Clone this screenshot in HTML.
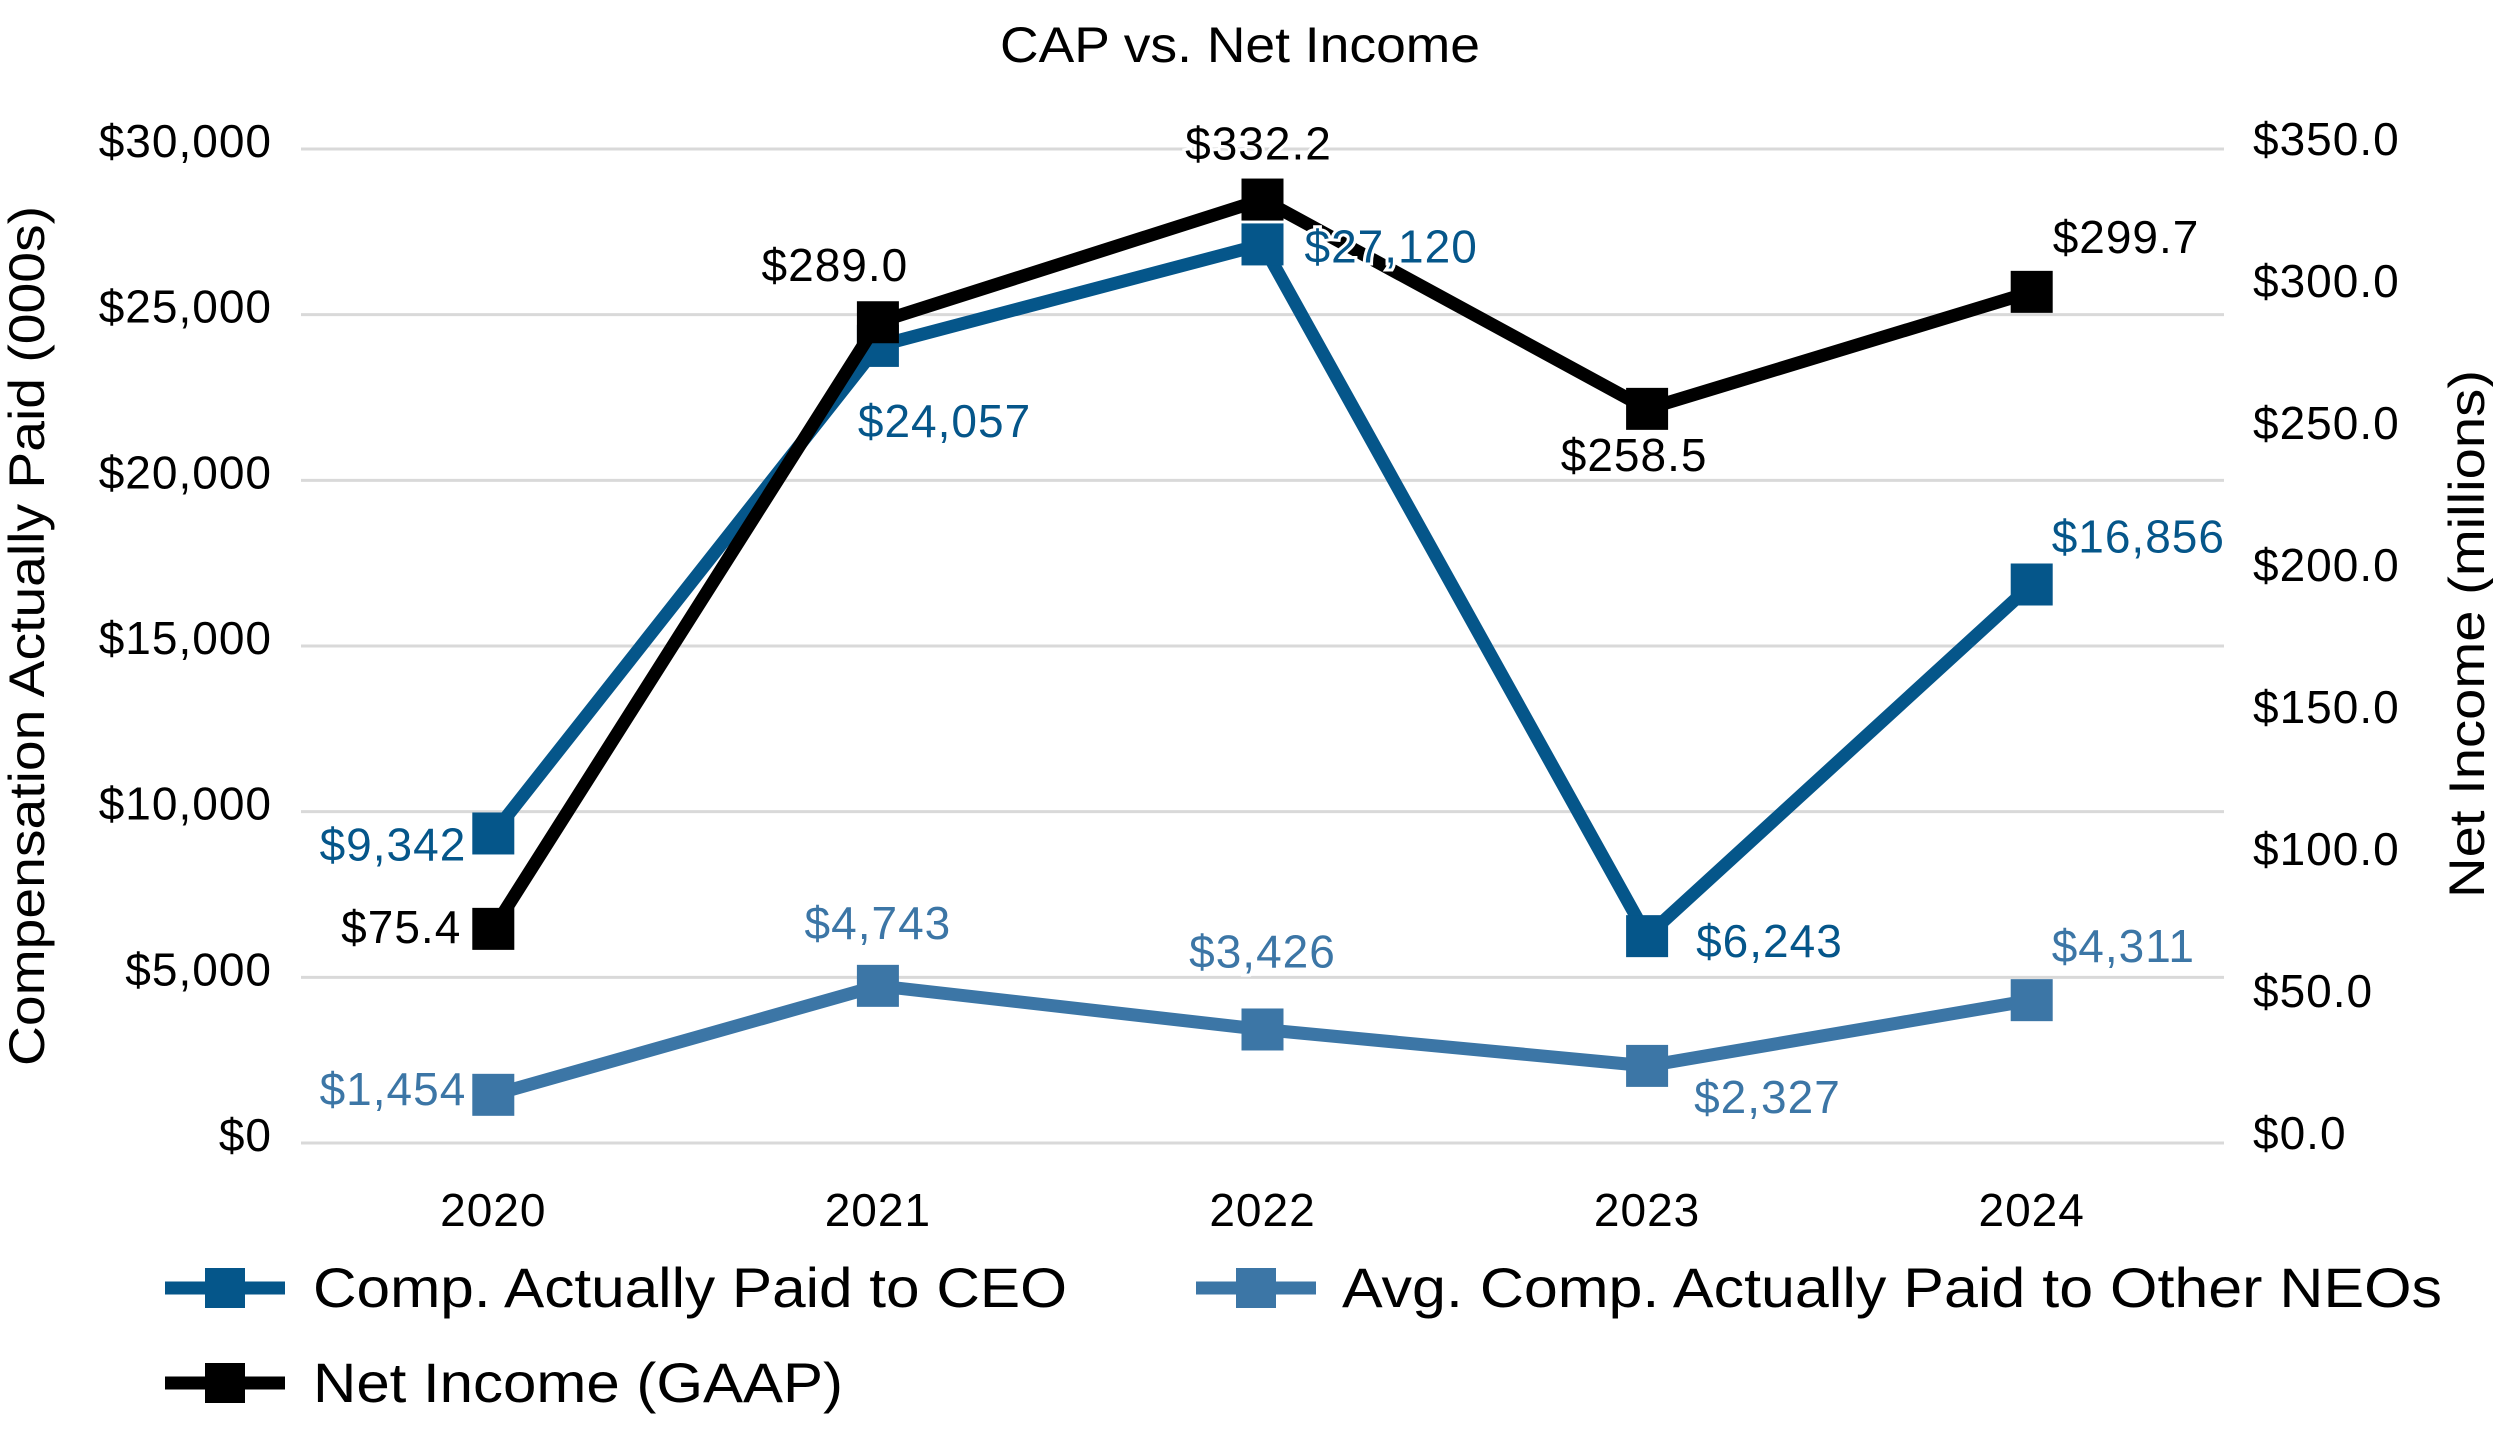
<!DOCTYPE html>
<html><head><meta charset="utf-8"><style>
html,body{margin:0;padding:0;background:#fff;}
svg{display:block;font-family:"Liberation Sans",sans-serif;}
</style></head><body>
<svg id="chart" width="2493" height="1443" viewBox="0 0 2493 1443">
<text x="1240" y="62" text-anchor="middle" font-size="50" textLength="480" lengthAdjust="spacingAndGlyphs" fill="#000">CAP vs. Net Income</text>
<g id="grid"></g>
<g id="lticks"></g>
<g id="rticks"></g>
<g id="xticks"></g>
<text transform="translate(44,636) rotate(-90)" text-anchor="middle" font-size="50" textLength="860" lengthAdjust="spacingAndGlyphs">Compensation Actually Paid (000s)</text>
<text transform="translate(2484,634) rotate(-90)" text-anchor="middle" font-size="50" textLength="528" lengthAdjust="spacingAndGlyphs">Net Income (millions)</text>
<g id="series"></g>
<g>
 <g>
  <line x1="165" y1="1288" x2="285" y2="1288" stroke="#05568A" stroke-width="13"/>
  <rect x="205" y="1268" width="40" height="40" fill="#05568A"/>
  <text x="313" y="1307" font-size="56" textLength="754" lengthAdjust="spacingAndGlyphs" fill="#000">Comp. Actually Paid to CEO</text>
 </g>
 <g>
  <line x1="1196" y1="1288" x2="1316" y2="1288" stroke="#3C76A6" stroke-width="13"/>
  <rect x="1236" y="1268" width="40" height="40" fill="#3C76A6"/>
  <text x="1342" y="1307" font-size="56" textLength="1100" lengthAdjust="spacingAndGlyphs" fill="#000">Avg. Comp. Actually Paid to Other NEOs</text>
 </g>
 <g>
  <line x1="165" y1="1383" x2="285" y2="1383" stroke="#000" stroke-width="13"/>
  <rect x="205" y="1363" width="40" height="40" fill="#000"/>
  <text x="313" y="1402" font-size="56" textLength="530" lengthAdjust="spacingAndGlyphs" fill="#000">Net Income (GAAP)</text>
 </g>
</g>
</svg>
<script>
const years = ["2020","2021","2022","2023","2024"];
const ceoValues = [9342, 24057, 27120, 6243, 16856];
const neoValues = [1454, 4743, 3426, 2327, 4311];
const netIncomeValues = [75.4, 289.0, 332.2, 258.5, 299.7];
const leftTicks = [0, 5000, 10000, 15000, 20000, 25000, 30000];
const rightTicks = [0, 50, 100, 150, 200, 250, 300, 350];
const ceoLabels = ["$9,342","$24,057","$27,120","$6,243","$16,856"];
const neoLabels = ["$1,454","$4,743","$3,426","$2,327","$4,311"];
const niLabels = ["$75.4","$289.0","$332.2","$258.5","$299.7"];

const NS = "http://www.w3.org/2000/svg";
const L = 301, R = 2224, T = 149, B = 1143;
const step = (R - L) / years.length;
function xPos(i){ return L + step * (i + 0.5); }
function yLeft(v){ return B - v / 30000 * (B - T); }
function yRight(v){ return B - v / 350 * (B - T); }
function mk(tag, attrs, parent, txt){
  const e = document.createElementNS(NS, tag);
  for (const k in attrs) e.setAttribute(k, attrs[k]);
  if (txt !== undefined) e.textContent = txt;
  parent.appendChild(e);
  return e;
}
function fmtL(v){ return "$" + v.toLocaleString("en-US"); }
function fmtR(v){ return "$" + v.toFixed(1); }

const grid = document.getElementById("grid");
const lt = document.getElementById("lticks");
const rt = document.getElementById("rticks");
const xt = document.getElementById("xticks");
leftTicks.forEach(v => {
  const y = yLeft(v);
  const g = mk("line", {x1:L, x2:R, y1:y, y2:y, stroke:"#d9d9d9", "stroke-width":3}, grid);
  
  
  const t = mk("text", {x:272, y:y+8, "text-anchor":"end", "font-size":46, "letter-spacing":"1", fill:"#000"}, lt, fmtL(v));
  
  
});
rightTicks.forEach(v => {
  const y = yRight(v);
  const t = mk("text", {x:2253, y:y+6, "font-size":46, "letter-spacing":"1", fill:"#000"}, rt, fmtR(v));
  
  
});
years.forEach((yr, i) => {
  const t = mk("text", {x:xPos(i), y:1226, "text-anchor":"middle", "font-size":46, "letter-spacing":"1", fill:"#000"}, xt, yr);
  
  
});

const series = document.getElementById("series");
const labelLayer = [];
function drawSeries(vals, yf, color, name, labels, offs){
  const g = mk("g", {}, series);
  
  
  const pts = vals.map((v,i) => xPos(i) + "," + yf(v)).join(" ");
  const pl = mk("polyline", {points:pts, fill:"none", stroke:color, "stroke-width":13, "stroke-linejoin":"miter"}, g);
  
  
  vals.forEach((v,i) => {
    const r = mk("rect", {x:xPos(i)-21, y:yf(v)-21, width:42, height:42, fill:color}, g);
    
    
  });
  labelLayer.push([vals, yf, color, name, labels, offs]);
}
drawSeries(neoValues, yLeft, "#3C76A6", "neo", neoLabels,
  [[-27,10,"end"],[0,-47,"middle"],[0,-62,"middle"],[47,47,"start"],[20,-38,"start"]]);
drawSeries(ceoValues, yLeft, "#05568A", "ceo", ceoLabels,
  [[-27,27,"end"],[-20,91,"start"],[42,18,"start"],[49,21,"start"],[20,-32,"start"]]);
drawSeries(netIncomeValues, yRight, "#000000", "net-income", niLabels,
  [[-32,14,"end"],[-43,-41,"middle"],[-4,-40,"middle"],[-13,62,"middle"],[21,-39,"start"]]);
const lg = mk("g", {}, series);


labelLayer.forEach(([vals, yf, color, name, labels, offs]) => {
  vals.forEach((v,i) => {
    const o = offs[i];
    const t = mk("text", {x:xPos(i)+o[0], y:yf(v)+o[1], "text-anchor":o[2], "font-size":46, "letter-spacing":"1", fill:color, stroke:"#fff", "stroke-width":6, "paint-order":"stroke"}, lg, labels[i]);
    
    
  });
});
</script>
</body></html>
